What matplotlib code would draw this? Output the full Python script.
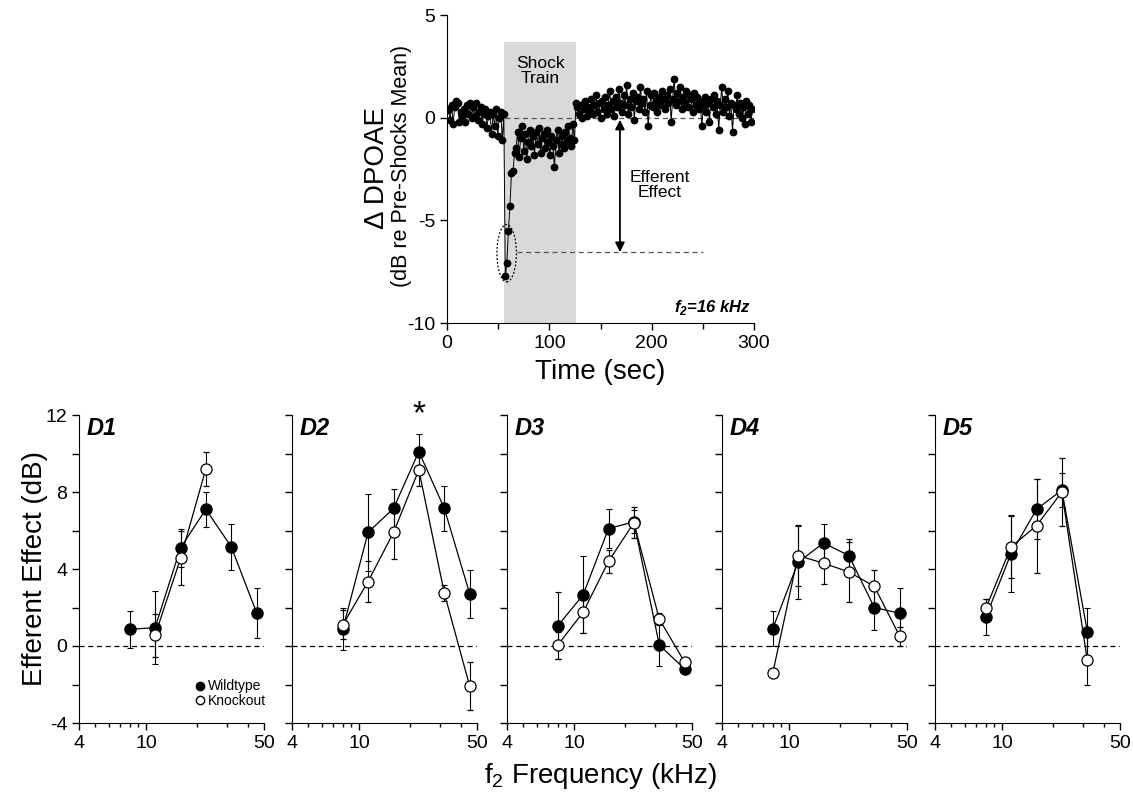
import numpy as np
import matplotlib
matplotlib.use("Agg")
import matplotlib.pyplot as plt
from matplotlib.lines import Line2D
from matplotlib.patches import Ellipse
from matplotlib.ticker import FixedLocator, NullFormatter

plt.rcParams["font.family"] = ["Liberation Sans", "DejaVu Sans"]
plt.rcParams["mathtext.fontset"] = "custom"
plt.rcParams["mathtext.rm"] = "Liberation Sans"
plt.rcParams["axes.unicode_minus"] = False

# --- top panel: DPOAE change over time (one point every 1.5 s) ---
time_step_s = 1.5
dpoae_pre = [0.35, 0.4, -0.1, 0.6, -0.3, 0.5, 0.8, 0.7, -0.2, 0.3, 0.1, 0.4, -0.2,
             0.6, 0.2, 0.7, 0.0, 0.5, 0.1, 0.7, -0.1, 0.3, 0.5, -0.3, 0.2, 0.4,
             -0.5, 0.1, 0.3, -0.8, 0.2, -0.4, 0.4, -0.9, 0.0, 0.3, -1.1, 0.2]
dpoae_dip = [-7.7, -7.1, -5.5, -4.3, -2.7, -2.6, -1.7]
dpoae_shock = [-1.5, -0.7, -1.9, -1.0, -0.4, -1.6, -0.8, -2.0, -1.2, -0.6, -1.4,
               -0.9, -1.8, -0.7, -1.3, -0.5, -1.7, -1.0, -0.8, -1.5, -0.6, -1.2,
               -1.8, -0.9, -1.4, -2.4, -1.1, -0.6, -1.7, -1.3, -0.9, -1.5, -0.7,
               -1.2, -0.4, -1.0, -1.4, -0.3, -1.1]
dpoae_post1 = [0.7, 0.5, 0.2, 0.6, 0.0, 0.4, 0.8, 0.1, 0.5, 0.3, 0.9, 0.2, 0.6,
               1.1, 0.3, 0.7, 0.0, 0.8, 0.4, 1.0, 0.2, 0.6, 1.3, 0.4, 0.8, 0.1,
               1.0, 0.5, 1.4, 0.7, 0.3, 1.1, 0.6, 1.6, 0.2, 0.9, 0.5, 1.2, -0.1,
               0.8, 1.0, 0.4, 1.5, 0.7, 0.9, 0.3, 1.3, -0.4, 0.6, 1.1]
dpoae_post2 = [0.5, 1.2, 0.8, 0.3, 1.0, 0.6, 1.3, 0.9, 0.4, 1.1, 0.7, 1.4, -0.2,
               0.9, 1.9, 0.6, 1.2, 0.8, 1.5, 0.4, 1.0, 0.7, 1.3, 0.5, 1.1, 0.9,
               0.3, 1.2, 0.6, 1.0, 0.4, 0.8, -0.4, 0.6, 1.0, 0.3, 0.7, -0.2, 0.9,
               0.5, 1.1, 0.2, 0.8, -0.6, 0.6, 1.5, 0.3, 0.9, 0.5, 1.3, 0.1, 0.7,
               -0.7, 0.6, 0.4, 1.1, 0.2, 0.7, 0.0, 0.5, -0.3, 0.8, 0.2, 0.6, -0.2,
               0.4]
shock_start, shock_end = 56, 126
efferent_level = -6.55

# --- bottom panels: efferent effect vs f2 frequency ---
freqs = [8, 11.3, 16, 22.6, 32, 45.3]
nan = np.nan
panels = ["D1", "D2", "D3", "D4", "D5"]
wt_mean = [
    [0.87, 0.95, 5.1, 7.1, 5.15, 1.7],
    [0.87, 5.9, 7.15, 10.1, 7.15, 2.7],
    [1.05, 2.65, 6.1, 6.45, 0.05, -1.2],
    [0.9, 4.35, 5.35, 4.7, 2.0, 1.7],
    [1.5, 4.8, 7.1, 8.1, 0.75, nan],
]
wt_sem = [
    [0.95, 1.9, 1.0, 0.9, 1.2, 1.3],
    [1.1, 2.0, 1.0, 0.9, 1.15, 1.25],
    [1.75, 2.0, 1.0, 0.6, 1.1, 0.0],
    [0.9, 1.9, 1.0, 0.85, 1.15, 1.3],
    [0.95, 2.0, 1.55, 0.9, 1.2, nan],
]
ko_mean = [
    [nan, 0.55, 4.55, 9.2, nan, nan],
    [1.1, 3.35, 5.9, 9.15, 2.75, -2.1],
    [0.05, 1.75, 4.4, 6.4, 1.4, -0.85],
    [-1.4, 4.7, 4.3, 3.85, 3.1, 0.5],
    [1.95, 5.15, 6.25, 8.0, -0.75, nan],
]
ko_sem = [
    [nan, 1.1, 1.4, 0.9, nan, nan],
    [0.75, 1.05, 1.4, 0.85, 0.4, 1.25],
    [0.7, 1.05, 0.6, 0.8, 0.3, 0.0],
    [0.0, 1.6, 1.1, 1.55, 0.87, 0.5],
    [0.5, 1.6, 2.45, 1.75, 1.3, nan],
]

W, H = 1133, 799
fig = plt.figure(figsize=(W / 100, H / 100), dpi=100)


def frac(x0, y0, x1, y1):
    return [x0 / W, 1 - y1 / H, (x1 - x0) / W, (y1 - y0) / H]


# ---------------- top panel ----------------
ax = fig.add_axes(frac(447, 15, 754, 323))
dpoae = dpoae_pre + dpoae_dip + dpoae_shock + dpoae_post1 + dpoae_post2
t = np.arange(len(dpoae)) * time_step_s
ax.fill_between([shock_start, shock_end], -10, 3.7, color="#d9d9d9", lw=0, zorder=0)
ax.plot([57, 300], [0, 0], ls=(0, (4, 3)), color="#555555", lw=0.9, zorder=1)
ax.plot([68, 250], [efferent_level] * 2, ls=(0, (4, 3)), color="#555555", lw=0.9, zorder=1)
ax.plot(t, dpoae, "-o", color="black", mfc="black", mec="black", ms=4.6, lw=0.7, zorder=3)
ax.add_patch(Ellipse((58.3, -6.6), 19, 2.8, fill=False, ls=(0, (1.5, 1.5)),
                     lw=0.9, ec="black", zorder=4))
ax.annotate("", xy=(169, -0.1), xytext=(169, efferent_level),
            arrowprops=dict(arrowstyle="<|-|>", color="black", lw=1.3,
                            mutation_scale=14, shrinkA=0, shrinkB=0))
ax.text(91, 2.25, "Shock\nTrain", ha="center", va="center", fontsize=12.5, linespacing=1.0)
ax.text(208, -3.3, "Efferent\nEffect", ha="center", va="center", fontsize=12.5,
        linespacing=1.0)
ax.text(297, -9.45, "f$_\\mathregular{2}$=16 kHz", ha="right", va="baseline",
        fontsize=12, fontweight="bold", fontstyle="italic")
ax.set_xlim(0, 300)
ax.set_ylim(-10, 5)
ax.set_xticks([0, 100, 200, 300])
ax.set_xticks([50, 150, 250], minor=True)
ax.set_yticks([5, 0, -5, -10])
for s in ("top", "right"):
    ax.spines[s].set_visible(False)
ax.tick_params(labelsize=14, length=5, width=1)
ax.tick_params(which="minor", length=4, width=1)
ax.set_xlabel("Time (sec)", fontsize=20, labelpad=5)
fig.text(377 / W, 1 - 168 / H, "\u0394 DPOAE", rotation=90, fontsize=20,
         ha="center", va="center")
fig.text(402 / W, 1 - 166 / H, "(dB re Pre-Shocks Mean)", rotation=90, fontsize=15.5,
         ha="center", va="center")

# ---------------- bottom panels ----------------
lefts = [79, 292, 507, 722, 935]
for i, name in enumerate(panels):
    ax = fig.add_axes(frac(lefts[i], 415, lefts[i] + 185, 723))
    ax.set_xscale("log")
    ax.plot([4, 50], [0, 0], ls=(0, (4, 3)), color="black", lw=0.9, zorder=1)
    ax.errorbar(freqs, wt_mean[i], yerr=wt_sem[i], fmt="-o", color="black",
                mfc="black", mec="black", ms=8, lw=0.9, elinewidth=0.8,
                capsize=2, capthick=0.8, zorder=3)
    ax.errorbar(freqs, ko_mean[i], yerr=ko_sem[i], fmt="-o", color="black",
                mfc="white", mec="black", ms=8, mew=0.9, lw=0.9, elinewidth=0.8,
                capsize=2, capthick=0.8, zorder=4)
    ax.set_xlim(4, 50)
    ax.set_ylim(-4, 12)
    ax.xaxis.set_major_locator(FixedLocator([4, 10, 50]))
    ax.xaxis.set_minor_locator(FixedLocator([5, 6, 7, 8, 9, 20, 30, 40]))
    ax.xaxis.set_minor_formatter(NullFormatter())
    ax.set_xticklabels(["4", "10", "50"])
    ax.set_yticks([-4, -2, 0, 2, 4, 6, 8, 10, 12])
    if i == 0:
        ax.set_yticklabels(["-4", "", "0", "", "4", "", "8", "", "12"])
    else:
        ax.set_yticklabels([])
    for s in ("top", "right"):
        ax.spines[s].set_visible(False)
    ax.tick_params(labelsize=14, length=5, width=1)
    ax.tick_params(which="minor", length=3, width=1)
    ax.text(0.04, 0.995, name, transform=ax.transAxes, fontsize=17,
            fontweight="bold", fontstyle="italic", ha="left", va="top")
    if name == "D2":
        ax.text(22.6, 12.0, "*", fontsize=24, ha="center", va="center", clip_on=False)
    if i == 0:
        handles = [
            Line2D([], [], ls="", marker="o", ms=6, mfc="black", mec="black"),
            Line2D([], [], ls="", marker="o", ms=6, mfc="white", mec="black"),
        ]
        ax.legend(handles, ["Wildtype", "Knockout"], loc="center left",
                  bbox_to_anchor=(0.63, 0.095), fontsize=10, frameon=False,
                  handlelength=0.6, handletextpad=0.3, labelspacing=0.05,
                  borderpad=0, borderaxespad=0)

fig.text(35 / W, 1 - 569 / H, "Efferent Effect (dB)", rotation=90, fontsize=20,
         ha="center", va="center")
fig.text(600 / W, 1 - 776 / H, "f$_\\mathregular{2}$ Frequency (kHz)", fontsize=20,
         ha="center", va="center")

fig.savefig("out.png", dpi=100)
